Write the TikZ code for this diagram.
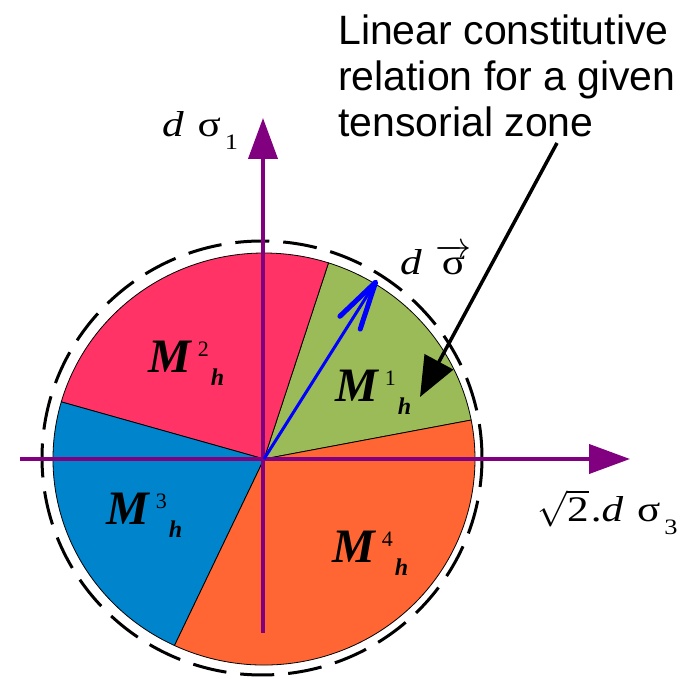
\documentclass[tikz,border=0pt]{standalone}
\usepackage{fix-cm}
\usepackage{fontspec}
\setmainfont{Liberation Serif}
\newfontfamily\notefont{Liberation Sans}
\newfontfamily\eqfont[FakeStretch=1.2]{Liberation Serif}
\usetikzlibrary{arrows.meta}
\definecolor{zonegreen}{HTML}{9BBB59}
\definecolor{zonepink}{HTML}{FF3366}
\definecolor{zoneblue}{HTML}{0084CC}
\definecolor{zoneorange}{HTML}{FF6633}
\definecolor{axispurple}{HTML}{800080}

% M^i_h label of a tensorial zone
\newcommand{\Mzone}[1]{{\bfseries\itshape M}\hspace{7pt}\raisebox{16pt}{\fontsize{22}{22}\selectfont #1}\hspace{2pt}\raisebox{-13pt}{\fontsize{24}{24}\selectfont\bfseries\itshape h}}
% subscript index of an axis
\newcommand{\axsub}[1]{\hspace{4pt}\raisebox{-13pt}{\fontsize{22}{22}\selectfont\upshape #1}}

\begin{document}
\begin{tikzpicture}[
    x=1pt, y=1pt,
    sector/.style={draw=black, line width=0.8pt},
    ring/.style={draw=black, line width=3pt, dash pattern=on 34pt off 14pt},
    axis/.style={draw=axispurple, line width=4pt,
                 -{Triangle[length=41pt, width=29pt]}},
    zone/.style={anchor=base west, inner sep=0pt,
                 font=\fontsize{48}{52}\selectfont},
    axlabel/.style={anchor=base west, inner sep=0pt,
                    font=\eqfont\fontsize{36}{40}\selectfont},
    vec/.style={draw=blue, line width=3pt,
                -{Straight Barb[length=48pt, width=24pt, line width=5pt, round]}},
    pointer/.style={draw=black, line width=3.5pt,
                    -{Triangle[length=40pt, width=32pt]}}
  ]
    \useasboundingbox (0,0) rectangle (698,679);

    \coordinate (O) at (264,220);

    % the four tensorial zones
    \fill[zonegreen, sector]  (O) -- ++(10.9:211 and 206)
        arc[start angle=10.9, end angle=72.2, x radius=211, y radius=206] -- cycle;
    \fill[zonepink, sector]   (O) -- ++(72.2:211 and 206)
        arc[start angle=72.2, end angle=163.9, x radius=211, y radius=206] -- cycle;
    \fill[zoneblue, sector]   (O) -- ++(163.9:211 and 206)
        arc[start angle=163.9, end angle=244.9, x radius=211, y radius=206] -- cycle;
    \fill[zoneorange, sector] (O) -- ++(244.9:211 and 206)
        arc[start angle=244.9, end angle=370.9, x radius=211, y radius=206] -- cycle;

    \draw[ring] (262,221) ellipse [x radius=220, y radius=217];

    % axes
    \coordinate (xl) at (20,220);
    \coordinate (xr) at (630,220);
    \coordinate (yb) at (263,46);
    \coordinate (yt) at (263,561);
    \draw[axis] (xl) -- (xr);
    \draw[axis] (yb) -- (yt);

    \node[axlabel] (sig1) at (162,542) {\itshape d\hspace{3pt} \upshape σ\axsub{1}};
    \node[axlabel] (sig3) at (537,157) {$\sqrt{\mbox{2}}$\hspace{2pt}.\itshape d\hspace{3pt} \upshape σ\axsub{3}};

    % stress increment
    \coordinate (dtip) at (377,399);
    \draw[vec] (O) -- (dtip);
    \node[axlabel] (dsig) at (400,404) {\itshape d\hspace{3pt} \upshape $\overrightarrow{\mbox{σ}}$};

    \node[zone] (m1) at (335,277) {\Mzone{1}};
    \node[zone] (m2) at (148,306) {\Mzone{2}};
    \node[zone] (m3) at (106,154) {\Mzone{3}};
    \node[zone] (m4) at (332,116) {\Mzone{4}};

    \node[anchor=north west, inner sep=0pt, align=left,
          font=\notefont\fontsize{41}{46}\selectfont] (note) at (338,664)
        {Linear constitutive\\relation for a given\\tensorial zone};
    \coordinate (from) at (557,536);
    \coordinate (to) at (420,282);
    \draw[pointer] (from) -- (to);
\end{tikzpicture}
\end{document}
